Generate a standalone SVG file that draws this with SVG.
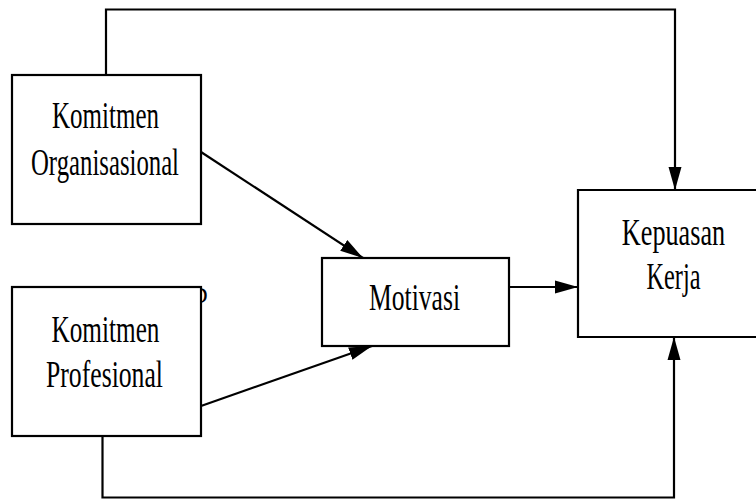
<svg xmlns="http://www.w3.org/2000/svg" width="756" height="499" viewBox="0 0 756 499">
  <defs>
    <style>
      .box { fill: #ffffff; stroke: #000000; stroke-width: 2.2; }
      .lbl { font-family: "Liberation Serif", "Times New Roman", serif; font-size: 38px; fill: #000000; text-anchor: middle; }
      .frag { font-family: "Liberation Serif", "Times New Roman", serif; font-size: 23px; fill: #000000; }
      .conn { fill: none; stroke: #000000; stroke-width: 2.2; }
    </style>
    <marker id="arrow" markerUnits="userSpaceOnUse" markerWidth="24" markerHeight="16" viewBox="0 0 24 16" refX="23" refY="8" orient="auto">
      <path d="M0,1.5 L23,8 L0,14.5 Z" fill="#000000"/>
    </marker>
  </defs>
  <rect width="756" height="499" fill="#ffffff"/>

  <text class="frag" x="191" y="303">D</text>

  <g id="connectors">
    <path class="conn" d="M106,75 V9.5 H675 V190" marker-end="url(#arrow)"/>
    <path class="conn" d="M102.5,436 V497.5 H674 V337" marker-end="url(#arrow)"/>
    <path class="conn" d="M201,152 L363,258" marker-end="url(#arrow)"/>
    <path class="conn" d="M201,406 L372,346" marker-end="url(#arrow)"/>
    <path class="conn" d="M509,287 L578,287" marker-end="url(#arrow)"/>
  </g>

  <g id="node-komitmen-organisasional">
    <rect class="box" x="12" y="75" width="189" height="149"/>
    <text class="lbl" x="105.5" y="128" textLength="107" lengthAdjust="spacingAndGlyphs">Komitmen</text>
    <text class="lbl" x="105" y="175" textLength="148" lengthAdjust="spacingAndGlyphs">Organisasional</text>
  </g>

  <g id="node-komitmen-profesional">
    <rect class="box" x="12" y="287" width="189" height="149"/>
    <text class="lbl" x="105.5" y="342" textLength="108" lengthAdjust="spacingAndGlyphs">Komitmen</text>
    <text class="lbl" x="104.5" y="387" textLength="117" lengthAdjust="spacingAndGlyphs">Profesional</text>
  </g>

  <g id="node-motivasi">
    <rect class="box" x="322" y="258" width="187" height="88"/>
    <text class="lbl" x="414.5" y="310" textLength="91" lengthAdjust="spacingAndGlyphs">Motivasi</text>
  </g>

  <g id="node-kepuasan-kerja">
    <path class="box" d="M756,190 H578 V337 H756"/>
    <g transform="translate(673.5,0) scale(0.69,1)">
      <text class="lbl" x="0" y="245">Kepuasan</text>
    </g>
    <g transform="translate(673.5,0) scale(0.64,1)">
      <text class="lbl" x="0" y="289">Kerja</text>
    </g>
  </g>
</svg>
